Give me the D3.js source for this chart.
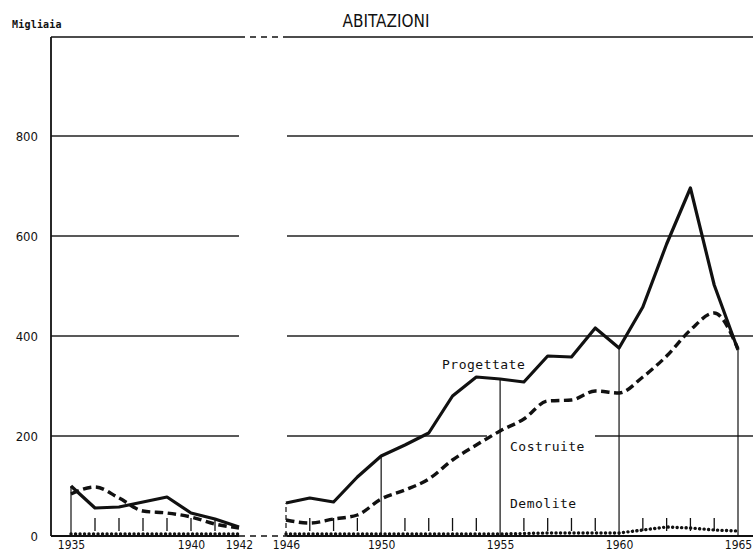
<!DOCTYPE html>
<meta charset="UTF-8">
<style>
    body { margin: 0; background: #fff; }
    svg { display: block; background: #fff; }
    .num { font-family: "Liberation Sans Narrow", "DejaVu Sans Condensed", sans-serif; fill: #111; }
    .mono { font-family: "DejaVu Sans Mono", monospace; fill: #111; font-weight: bold; }
    .grid { stroke: #222; stroke-width: 1.3px; }
    .tick-minor { stroke: #111; stroke-width: 1.3px; }
    .drop { stroke: #111; stroke-width: 1.2px; }
</style>
<body>
<div id="chart"></div>

<script src="https://cdn.jsdelivr.net/npm/d3@7"></script>
<script>
    // ---- data (migliaia di abitazioni) ----
    var years1 = [1935, 1936, 1937, 1938, 1939, 1940, 1941, 1942];
    var progettate1 = [100, 56, 58, 68, 78, 46, 34, 18];
    var costruite1 = [84, 98, 76, 50, 46, 38, 24, 16];
    var demolite1 = [4, 4, 4, 4, 4, 4, 4, 4];

    var years2 = [1946, 1947, 1948, 1949, 1950, 1951, 1952, 1953, 1954, 1955,
                  1956, 1957, 1958, 1959, 1960, 1961, 1962, 1963, 1964, 1965];
    var progettate2 = [66, 76, 68, 118, 160, 182, 206, 280, 318, 314,
                       308, 360, 358, 416, 376, 458, 584, 696, 502, 372];
    var costruite2 = [32, 26, 34, 42, 74, 92, 114, 152, 182, 210,
                      234, 270, 272, 290, 286, 318, 360, 412, 446, 374];
    var demolite2 = [4, 4, 4, 4, 4, 4, 4, 4, 4, 4,
                     5, 6, 6, 6, 6, 12, 18, 16, 12, 10];

    var yTicks = [0, 200, 400, 600, 800];
    var xLabels1 = [1935, 1940, 1942];
    var xLabels2 = [1946, 1950, 1955, 1960, 1965];
    var dropYears2 = [1950, 1955, 1960, 1965];

    var width = 753, height = 552;

    var svg = d3.select("#chart").append("svg")
            .attr("width", width)
            .attr("height", height);

    // scales: broken axis, two panels
    var y = d3.scaleLinear().domain([0, 1000]).range([536, 36]);
    var x1 = d3.scaleLinear().domain([1935, 1942]).range([71, 239]);
    var x2 = d3.scaleLinear().domain([1946, 1965]).range([286, 738]);

    var axisX = 51, panel1 = [51, 239], panel2 = [287, 753];

    // title and unit
    svg.append("text").attr("class", "num")
            .attr("x", 386).attr("y", 27)
            .attr("text-anchor", "middle")
            .style("font-size", "17px")
            .style("font-weight", "500")
            .text("ABITAZIONI");

    svg.append("text").attr("class", "mono")
            .attr("x", 12).attr("y", 28)
            .style("font-size", "10px")
            .style("letter-spacing", "0.2px")
            .text("Migliaia");

    // gridlines
    var gridVals = yTicks.filter(function (d) { return d > 0; });
    [panel1, panel2].forEach(function (p) {
        svg.selectAll(null).data(gridVals).enter().append("line")
                .attr("class", "grid")
                .attr("x1", p[0]).attr("x2", p[1])
                .attr("y1", function (d) { return y(d); })
                .attr("y2", function (d) { return y(d); });
    });

    // gap in the 200 line around the "Costruite" label
    svg.append("rect")
            .attr("x", 487).attr("y", y(200) - 4)
            .attr("width", 108).attr("height", 8)
            .attr("fill", "#fff");

    // frame: top line and baseline, dashed across the break
    [y(1000) + 1, y(0)].forEach(function (yy, i) {
        var sw = i === 0 ? 1.6 : 2.2;
        svg.append("line").attr("x1", panel1[0]).attr("x2", panel1[1])
                .attr("y1", yy).attr("y2", yy)
                .attr("stroke", "#111").attr("stroke-width", sw);
        svg.append("line").attr("x1", panel1[1]).attr("x2", panel2[0])
                .attr("y1", yy).attr("y2", yy)
                .attr("stroke", "#111").attr("stroke-width", 1.4)
                .attr("stroke-dasharray", "6,5");
        svg.append("line").attr("x1", panel2[0]).attr("x2", panel2[1])
                .attr("y1", yy).attr("y2", yy)
                .attr("stroke", "#111").attr("stroke-width", sw);
    });

    // left axis
    svg.append("line")
            .attr("x1", axisX).attr("x2", axisX)
            .attr("y1", y(1000) + 1).attr("y2", y(0))
            .attr("stroke", "#111").attr("stroke-width", 1.8);

    var yAxis = svg.append("g")
            .attr("transform", "translate(" + axisX + ",0)")
            .call(d3.axisLeft(y).tickValues(yTicks).tickSize(0).tickPadding(13));
    yAxis.select(".domain").remove();
    yAxis.selectAll("text")
            .attr("class", "num")
            .attr("fill", "#111")
            .style("font-size", "13px")
            .style("font-family", null);

    // x tick labels
    function xAxis(scale, vals) {
        var g = svg.append("g")
                .attr("transform", "translate(0," + y(0) + ")")
                .call(d3.axisBottom(scale).tickValues(vals).tickSize(0).tickPadding(4)
                        .tickFormat(d3.format("d")));
        g.select(".domain").remove();
        g.selectAll("text")
                .attr("class", "num")
                .attr("fill", "#111")
                .style("font-size", "12px")
                .style("font-family", null);
    }
    xAxis(x1, xLabels1);
    xAxis(x2, xLabels2);

    // short year ticks
    var minor1 = years1.filter(function (d) { return d !== 1935 && d !== 1942; });
    var minor2 = years2.filter(function (d) { return d !== 1946 && dropYears2.indexOf(d) < 0; });
    svg.selectAll(null).data(minor1).enter().append("line")
            .attr("class", "tick-minor")
            .attr("x1", function (d) { return x1(d); })
            .attr("x2", function (d) { return x1(d); })
            .attr("y1", 518).attr("y2", 531);
    svg.selectAll(null).data(minor2).enter().append("line")
            .attr("class", "tick-minor")
            .attr("x1", function (d) { return x2(d); })
            .attr("x2", function (d) { return x2(d); })
            .attr("y1", 518).attr("y2", 531);

    // drop lines from the Progettate curve
    svg.append("line").attr("class", "drop")
            .attr("x1", x1(1935)).attr("x2", x1(1935))
            .attr("y1", y(0)).attr("y2", y(progettate1[0]));
    svg.append("line").attr("class", "drop")
            .attr("x1", x2(1946)).attr("x2", x2(1946))
            .attr("y1", y(0)).attr("y2", y(progettate2[0]))
            .attr("stroke-dasharray", "5,3");
    svg.selectAll(null).data(dropYears2).enter().append("line")
            .attr("class", "drop")
            .attr("x1", function (d) { return x2(d); })
            .attr("x2", function (d) { return x2(d); })
            .attr("y1", y(0))
            .attr("y2", function (d) { return y(progettate2[years2.indexOf(d)]); });

    // series lines
    function series(xs, vals, scale, style) {
        var pts = xs.map(function (d, i) { return [scale(d), y(vals[i])]; });
        var line = d3.line().curve(style.curve || d3.curveLinear);
        svg.append("path")
                .attr("d", line(pts))
                .attr("fill", "none")
                .attr("stroke", "#111")
                .attr("stroke-width", style.width)
                .attr("stroke-dasharray", style.dash || null)
                .attr("stroke-linecap", style.cap || "butt")
                .attr("stroke-linejoin", "round");
    }
    var solid = {width: 3.2};
    var dashed = {width: 3.4, dash: "8.5,4.5", curve: d3.curveMonotoneX};
    var dotted = {width: 3.4, dash: "0.1,4.4", cap: "round"};

    series(years1, demolite1, x1, dotted);
    series(years2, demolite2, x2, dotted);
    series(years1, costruite1, x1, dashed);
    series(years2, costruite2, x2, dashed);
    series(years1, progettate1, x1, solid);
    series(years2, progettate2, x2, solid);

    // series labels
    var labels = [
        {text: "Progettate", x: 442, y: 369},
        {text: "Costruite", x: 510, y: 451},
        {text: "Demolite", x: 510, y: 508}
    ];
    svg.selectAll(null).data(labels).enter().append("text")
            .attr("class", "mono")
            .attr("x", function (d) { return d.x; })
            .attr("y", function (d) { return d.y; })
            .style("font-size", "13px")
            .style("font-weight", "normal")
            .style("letter-spacing", "0.5px")
            .text(function (d) { return d.text; });
</script>
</body>
